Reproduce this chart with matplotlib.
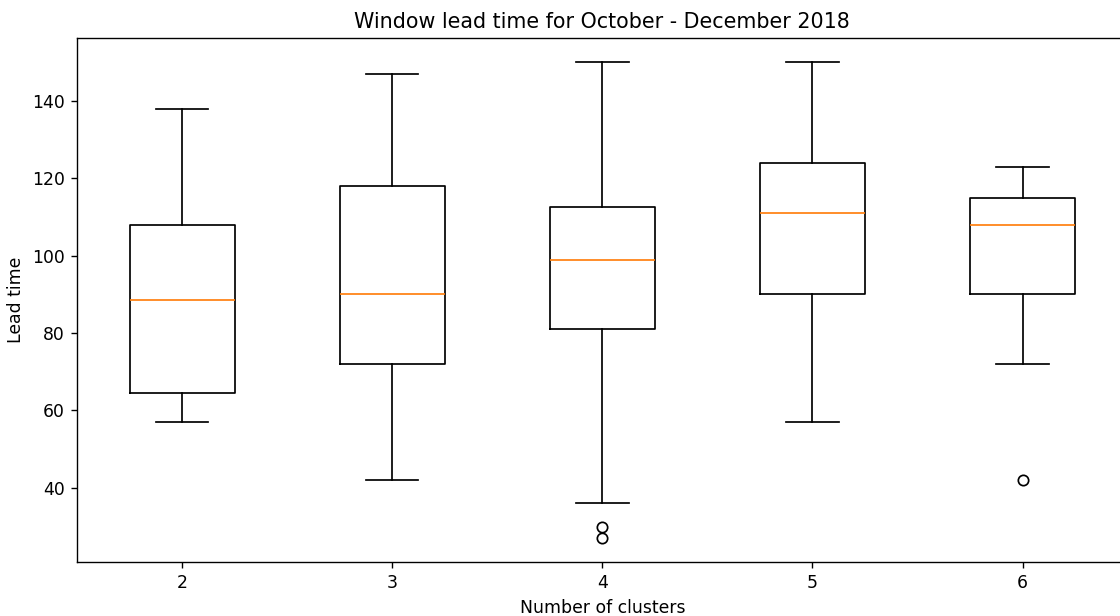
import matplotlib
matplotlib.use("Agg")
import matplotlib.pyplot as plt

# Number of clusters and the box statistics of the lead time for each
clusters = [2, 3, 4, 5, 6]
whisker_low = [57, 42, 36, 57, 72]
q1 = [64.5, 72, 81, 90, 90]
median = [88.5, 90, 99, 111, 108]
q3 = [108, 118, 112.5, 124, 115]
whisker_high = [138, 147, 150, 150, 123]
outliers = [[], [], [30, 27], [], [42]]

stats = []
for i, k in enumerate(clusters):
    stats.append({
        'label': str(k),
        'whislo': whisker_low[i],
        'q1': q1[i],
        'med': median[i],
        'q3': q3[i],
        'whishi': whisker_high[i],
        'fliers': outliers[i],
    })

DPI = 124
fig = plt.figure(figsize=(1120 / DPI, 616 / DPI), dpi=DPI)
ax = fig.add_axes([0.0688, 0.0877, 0.938, 0.85])

ax.bxp(stats, positions=range(1, len(clusters) + 1))

ax.set_title("Window lead time for October - December 2018")
ax.set_xlabel("Number of clusters")
ax.set_ylabel("Lead time")

fig.savefig("out.png", dpi=DPI)
